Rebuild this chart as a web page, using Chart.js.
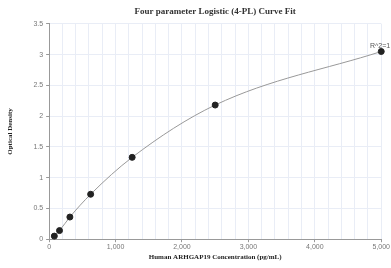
<!DOCTYPE html>
<html>
<head>
<meta charset="utf-8">
<script src="https://cdn.jsdelivr.net/npm/chart.js@4"></script>
<style>
  html, body { margin: 0; padding: 0; background: #fff; }
  #wrap { width: 391px; height: 268px; }
</style>
</head>
<body>
<div id="wrap"><canvas id="myChart"></canvas></div>
<script>
// standard curve points
let conc = [78.125, 156.25, 312.5, 625, 1250, 2500, 5000];
let od = [0.05, 0.14, 0.36, 0.73, 1.33, 2.18, 3.05];
let fitLabel = 'R^2=1';

let puntos = [];
for (var i = 0; i < conc.length; i++) {
  puntos.push({ x: conc[i], y: od[i] });
}

// writes the R^2 text next to the last point
const etiquetaR2 = {
  id: 'etiquetaR2',
  afterDatasetsDraw(chart) {
    let ctx = chart.ctx;
    let xs = chart.scales.x, ys = chart.scales.y;
    let px = xs.getPixelForValue(conc[conc.length - 1]);
    let py = ys.getPixelForValue(od[od.length - 1]);
    ctx.save();
    ctx.font = '7px "Liberation Sans", Arial, sans-serif';
    ctx.fillStyle = '#555';
    ctx.textAlign = 'right';
    ctx.textBaseline = 'bottom';
    ctx.fillText(fitLabel, px + 9, py - 2);
    ctx.restore();
  }
};

let ctx = document.getElementById('myChart').getContext('2d');
let chart = new Chart(ctx, {
  type: 'scatter',
  data: {
    datasets: [{
      label: 'fit',
      data: puntos,
      showLine: true,
      clip: false,
      cubicInterpolationMode: 'monotone',
      borderColor: '#999',
      borderWidth: 1,
      pointBackgroundColor: '#222',
      pointBorderColor: '#222',
      pointRadius: 3,
      pointHoverRadius: 3
    }]
  },
  options: {
    responsive: true,
    maintainAspectRatio: false,
    animation: false,
    layout: { padding: { left: 2, right: 9, top: 0, bottom: 3 } },
    plugins: {
      legend: { display: false },
      tooltip: { enabled: false },
      title: {
        display: true,
        fullSize: false,
        text: 'Four parameter Logistic (4-PL) Curve Fit',
        color: '#333',
        font: { family: '"Liberation Serif", "Times New Roman", serif', size: 9, weight: 'bold' },
        padding: { top: 6, bottom: 7 }
      }
    },
    scales: {
      x: {
        type: 'linear',
        min: 0,
        max: 5000,
        ticks: {
          stepSize: 200,
          autoSkip: false,
          maxRotation: 0,
          padding: 1,
          color: '#777',
          font: { family: '"Liberation Sans", Arial, sans-serif', size: 7 },
          callback: function (v) { return v % 1000 === 0 ? v.toLocaleString('en-US') : ''; }
        },
        grid: {
          color: '#e9edf6',
          tickLength: 3,
          tickColor: function (c) { return c.tick && c.tick.value % 1000 === 0 ? '#999' : 'rgba(0,0,0,0)'; }
        },
        border: { color: '#999' },
        title: {
          display: true,
          text: 'Human ARHGAP19 Concentration (pg/mL)',
          color: '#222',
          font: { family: '"Liberation Serif", "Times New Roman", serif', size: 7, weight: 'bold' },
          padding: { top: 0 }
        }
      },
      y: {
        min: 0,
        max: 3.5,
        ticks: {
          stepSize: 0.5,
          color: '#777',
          font: { family: '"Liberation Sans", Arial, sans-serif', size: 7 },
          padding: 3,
          callback: function (v) { return String(v); }
        },
        grid: { color: '#e9edf6', tickLength: 3, tickColor: '#999' },
        border: { color: '#999' },
        title: {
          display: true,
          text: 'Optical Density',
          color: '#222',
          font: { family: '"Liberation Serif", "Times New Roman", serif', size: 7, weight: 'bold' },
          padding: { bottom: 16 }
        }
      }
    }
  },
  plugins: [etiquetaR2]
});
</script>
</body>
</html>
